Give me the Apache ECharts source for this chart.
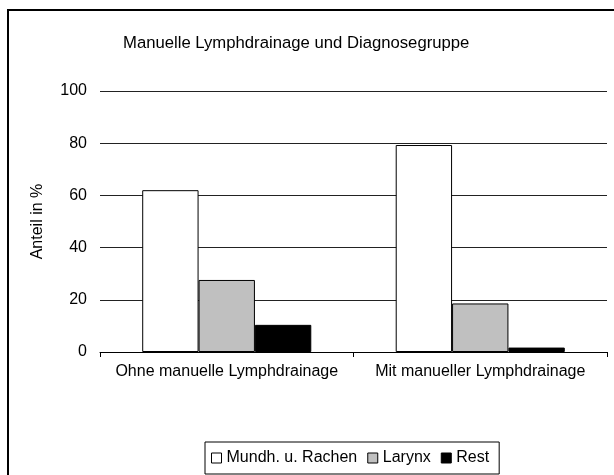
<!DOCTYPE html>
<html>
<head>
<meta charset="utf-8">
<script src="https://cdn.jsdelivr.net/npm/echarts@6/dist/echarts.min.js"></script>
<style>
  html, body { margin: 0; padding: 0; background: #fff; }
  #main { width: 614px; height: 475px; }
</style>
</head>
<body>
<div id="main"></div>
<script>
var chartDom = document.getElementById('main');
var myChart = echarts.init(chartDom, null, { renderer: 'canvas' });

// data
var categories = ['Ohne manuelle Lymphdrainage', 'Mit manueller Lymphdrainage'];
var seriesNames = ['Mundh. u. Rachen', 'Larynx', 'Rest'];
var mundRachen = [62.0, 79.3];
var larynx = [27.6, 18.6];
var rest = [10.4, 1.7];
var yTicks = [0, 20, 40, 60, 80, 100];

var colors = ['#ffffff', '#c0c0c0', '#000000'];
var values = [mundRachen, larynx, rest];
var font = 'Liberation Sans, Arial, sans-serif';

var series = seriesNames.map(function (name, i) {
    return {
        name: name,
        type: 'bar',
        data: values[i],
        barGap: '0%',
        barCategoryGap: '33.3%',
        itemStyle: {
            color: colors[i],
            borderColor: '#000',
            borderWidth: 1
        },
        emphasis: { disabled: true }
    };
});

var option = {
    animation: false,
    textStyle: { fontFamily: font },
    graphic: [
        {
            type: 'rect',
            shape: { x: 8, y: 10, width: 620, height: 480 },
            style: { fill: 'none', stroke: '#000', lineWidth: 2 },
            silent: true
        }
    ],
    title: {
        text: 'Manuelle Lymphdrainage und Diagnosegruppe',
        left: 118,
        top: 30,
        textStyle: {
            fontFamily: font,
            fontSize: 16.7,
            fontWeight: 'normal',
            color: '#000'
        }
    },
    legend: {
        data: seriesNames,
        left: 205,
        top: 442,
        orient: 'horizontal',
        icon: 'rect',
        itemWidth: 10,
        itemHeight: 10,
        itemGap: 10,
        padding: [8, 10, 8, 6],
        borderColor: '#000',
        borderWidth: 1,
        selectedMode: false,
        itemStyle: { borderColor: '#000', borderWidth: 1 },
        textStyle: {
            fontFamily: font,
            fontSize: 16,
            color: '#000'
        }
    },
    grid: {
        left: 100,
        right: 7,
        top: 91,
        bottom: 123
    },
    xAxis: {
        type: 'category',
        data: categories,
        axisLine: { lineStyle: { color: '#000', width: 1 } },
        axisTick: { show: true, length: 5, lineStyle: { color: '#000' } },
        axisLabel: {
            color: '#000',
            fontSize: 16,
            margin: 12,
            interval: 0,
            fontFamily: font
        }
    },
    yAxis: {
        type: 'value',
        min: yTicks[0],
        max: yTicks[yTicks.length - 1],
        interval: 20,
        name: 'Anteil in %',
        nameLocation: 'middle',
        nameGap: 54,
        nameRotate: 90,
        nameTextStyle: {
            color: '#000',
            fontSize: 16,
            fontFamily: font
        },
        axisLine: { show: false },
        axisTick: { show: false },
        axisLabel: {
            color: '#000',
            fontSize: 16,
            margin: 13,
            fontFamily: font
        },
        splitLine: { lineStyle: { color: '#222', width: 1 } }
    },
    series: series
};

myChart.setOption(option);
</script>
</body>
</html>
